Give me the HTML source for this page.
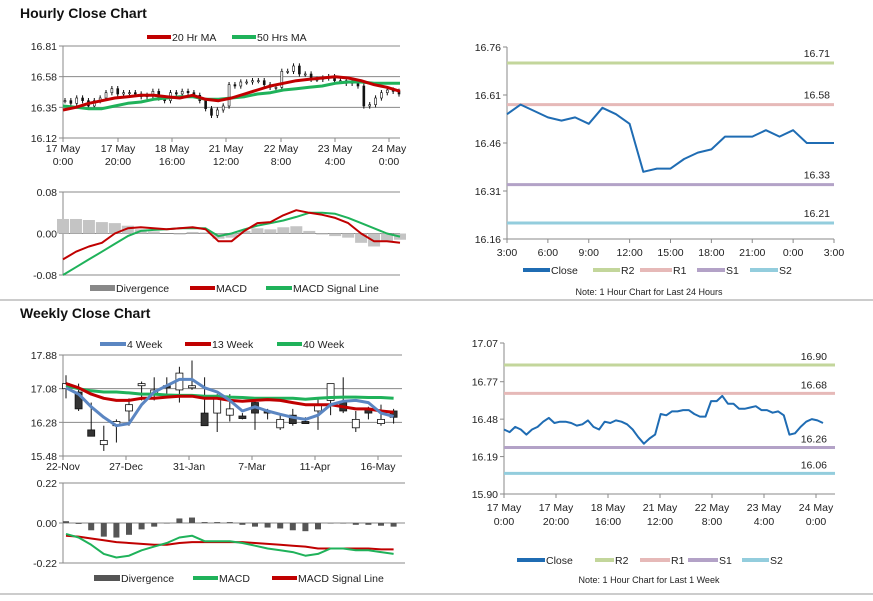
<!DOCTYPE html>
<html><head><meta charset="utf-8"><style>
html,body{margin:0;padding:0;background:#fff}
svg{display:block;font-family:"Liberation Sans",Arial,sans-serif}
.t{font-size:10.5px;fill:#222}
.s{font-size:9px;fill:#222}
.h{font-size:14px;font-weight:bold;fill:#111}
</style></head><body>
<svg id="root" width="873" height="601" viewBox="0 0 873 601">
<text class="h" x="20" y="18">Hourly Close Chart</text>
<text class="h" x="20" y="318">Weekly Close Chart</text>
<line x1="0" y1="300" x2="873" y2="300" stroke="#999"/>
<line x1="0" y1="594" x2="873" y2="594" stroke="#999"/>
<g id="g"></g>
</svg>
<script>
// ---------- DATA ----------
var hrClose=[16.40,16.38,16.42,16.40,16.36,16.40,16.42,16.46,16.49,16.45,16.46,16.46,16.45,16.43,16.44,16.47,16.42,16.40,16.46,16.45,16.47,16.46,16.44,16.40,16.34,16.29,16.33,16.36,16.52,16.51,16.54,16.54,16.55,16.55,16.52,16.50,16.50,16.62,16.62,16.66,16.60,16.60,16.56,16.56,16.57,16.58,16.55,16.55,16.53,16.54,16.51,16.36,16.37,16.42,16.46,16.48,16.47,16.45];
var hrMA20=[16.33,16.35,16.38,16.40,16.42,16.43,16.44,16.44,16.43,16.42,16.44,16.41,16.40,16.42,16.45,16.48,16.51,16.53,16.55,16.56,16.57,16.58,16.57,16.55,16.52,16.50,16.47];
var hrMA50=[16.36,16.35,16.34,16.34,16.36,16.38,16.39,16.41,16.42,16.43,16.43,16.41,16.41,16.42,16.43,16.45,16.46,16.48,16.49,16.50,16.51,16.53,16.54,16.54,16.53,16.53,16.53];
var hrMacd=[-0.05,-0.035,-0.025,-0.018,0.0,0.01,0.012,0.01,0.008,0.01,0.012,0.008,-0.015,-0.015,0.005,0.02,0.022,0.035,0.045,0.04,0.036,0.03,0.02,0.0,-0.015,-0.015,-0.018];
var hrSignal=[-0.08,-0.065,-0.05,-0.035,-0.02,-0.005,0.005,0.007,0.008,0.01,0.01,0.01,-0.005,0.0,0.008,0.015,0.02,0.025,0.032,0.04,0.04,0.038,0.03,0.02,0.01,0.0,-0.006];
var hrDiv=[0.028,0.028,0.026,0.022,0.02,0.015,0.008,0.004,0.0,-0.002,0.003,0.002,-0.01,-0.008,0.005,0.01,0.008,0.012,0.014,0.005,-0.002,-0.005,-0.008,-0.018,-0.025,-0.016,-0.012];
var dayClose=[16.55,16.58,16.56,16.54,16.53,16.54,16.52,16.57,16.55,16.52,16.37,16.38,16.38,16.41,16.43,16.44,16.48,16.48,16.48,16.50,16.48,16.50,16.46,16.46,16.46];
var dayLevels=[16.71,16.58,16.33,16.21];
var wkLevels=[16.90,16.68,16.26,16.06];
var wkOpen=[17.08,17.0,16.1,15.75,16.2,16.55,17.15,16.95,17.15,17.05,17.1,16.5,16.5,16.45,16.43,16.75,16.55,16.15,16.45,16.3,16.55,16.8,16.75,16.15,16.6,16.25,16.55];
var wkClose=[17.2,16.6,15.95,15.85,16.3,16.7,17.2,17.05,17.1,17.45,17.15,16.2,16.85,16.6,16.37,16.5,16.5,16.35,16.25,16.25,16.7,17.2,16.55,16.35,16.5,16.35,16.4];
var wkHigh=[17.4,17.2,16.75,16.2,16.35,16.85,17.25,17.35,17.35,17.6,17.75,17.35,16.95,16.95,16.5,16.85,16.6,16.45,16.6,16.4,16.85,17.2,17.35,16.55,16.65,16.7,16.6];
var wkLow=[16.85,16.55,15.95,15.6,15.8,16.2,16.8,16.8,16.85,16.75,17.05,16.2,16.05,16.3,16.35,16.1,16.35,16.1,16.2,16.25,16.1,16.45,16.5,16.05,16.35,16.2,16.25];
var wk4=[17.1,16.95,16.65,16.4,16.2,16.25,16.7,17.0,17.15,17.3,17.3,17.1,17.0,16.8,16.55,16.65,16.55,16.47,16.4,16.35,16.45,16.7,16.78,16.8,16.75,16.5,16.42];
var wk13=[17.2,17.1,16.95,16.85,16.8,16.8,16.85,16.85,16.88,16.9,16.9,16.85,16.85,16.8,16.78,16.8,16.82,16.8,16.75,16.7,16.7,16.7,16.65,16.6,16.6,16.55,16.52];
var wk40=[17.15,17.08,17.03,17.0,17.0,16.98,16.95,16.95,16.93,16.92,16.92,16.9,16.9,16.88,16.87,16.85,16.85,16.85,16.85,16.83,16.85,16.87,16.88,16.88,16.87,16.87,16.85];
var wkDiv=[0.01,-0.005,-0.04,-0.075,-0.08,-0.065,-0.035,-0.02,0,0.025,0.03,0.005,0.005,0.005,-0.01,-0.02,-0.025,-0.03,-0.04,-0.045,-0.035,0,0,-0.01,-0.01,-0.015,-0.02];
var wkMacd=[-0.06,-0.08,-0.12,-0.17,-0.19,-0.18,-0.15,-0.13,-0.11,-0.08,-0.07,-0.1,-0.1,-0.1,-0.11,-0.125,-0.14,-0.15,-0.16,-0.18,-0.17,-0.14,-0.14,-0.15,-0.15,-0.16,-0.17];
var wkSignal=[-0.07,-0.075,-0.085,-0.095,-0.105,-0.11,-0.115,-0.12,-0.12,-0.11,-0.105,-0.105,-0.105,-0.105,-0.105,-0.11,-0.115,-0.12,-0.125,-0.13,-0.14,-0.14,-0.14,-0.14,-0.14,-0.145,-0.145];
var hrYTicks=["16.81","16.58","16.35","16.12"];
var hrMacdTicks=["0.08","0.00","-0.08"];
var dayYTicks=["16.76","16.61","16.46","16.31","16.16"];
var dayXTicks=["3:00","6:00","9:00","12:00","15:00","18:00","21:00","0:00","3:00"];
var weekXTicks1=["17 May","17 May","18 May","21 May","22 May","23 May","24 May"];
var weekXTicks2=["0:00","20:00","16:00","12:00","8:00","4:00","0:00"];
var wkYTicks=["17.88","17.08","16.28","15.48"];
var wkMacdTicks=["0.22","0.00","-0.22"];
var wkXTicks=["22-Nov","27-Dec","31-Jan","7-Mar","11-Apr","16-May"];
var wkRightY=["17.07","16.77","16.48","16.19","15.90"];

// ---------- HELPERS ----------
var NS="http://www.w3.org/2000/svg",G=document.getElementById('g');
function mk(tag,a,name){var el=document.createElementNS(NS,tag);for(var k in a)el.setAttribute(k,a[k]);


G.appendChild(el);return el;}
function lin(d0,d1,r0,r1){return function(v){return r0+(v-d0)*(r1-r0)/(d1-d0);};}
function txt(x,y,s,cls,anchor,name){var t=mk('text',{x:x,y:y,'class':cls,'text-anchor':anchor||'start'},name);t.textContent=s;return t;}
function poly(arr,xs,ys,color,w,name){var p=arr.map(function(v,i){return xs(i).toFixed(1)+','+ys(v).toFixed(1);}).join(' ');
mk('polyline',{points:p,fill:'none',stroke:color,'stroke-width':w,'stroke-linejoin':'round'},name);}
function yAxis(ticks,ys,x0,x1,name,grid){ticks.forEach(function(t){var y=ys(parseFloat(t));
if(grid)mk('line',{x1:x0,x2:x1,y1:y,y2:y,stroke:'#8a8a8a','stroke-width':1},name+'-grid');
mk('line',{x1:x0-4,x2:x0,y1:y,y2:y,stroke:'#8a8a8a'},name+'-tick');
txt(x0-6,y+4,t,'t','end',name+'-label');});
mk('line',{x1:x0,x2:x0,y1:ys(parseFloat(ticks[0])),y2:ys(parseFloat(ticks[ticks.length-1])),stroke:'#8a8a8a'},name+'-line');}
function legLine(x,y,w,color,label,name,rect){if(rect)mk('rect',{x:x,y:y-3,width:w,height:6,fill:color},name+'-swatch');
else mk('line',{x1:x,x2:x+w,y1:y,y2:y,stroke:color,'stroke-width':4},name+'-swatch');
txt(x+w+1,y+4,label,'t','start',name);}
var RED='#c00000',GRN='#1fb25a',BLU='#5b86c2',DBL='#1f6cb3';
var LC=['#c3d69b','#e6b9b8','#b3a2c7','#93cddd'],LN=['R2','R1','S1','S2'];

// ---------- PANEL 1: hourly candles ----------
(function(){
var ys=lin(16.12,16.81,138,46),xs=lin(0,hrClose.length-1,65,399);
yAxis(hrYTicks,ys,63,400,'hourly-y',true);
var xt=[63,118,172,226,281,335,389];
xt.forEach(function(x,i){mk('line',{x1:x,x2:x,y1:138,y2:142,stroke:'#8a8a8a'},'hourly-x-tick');
txt(x,152,weekXTicks1[i],'t','middle','hourly-x-label');txt(x,165,weekXTicks2[i],'t','middle','hourly-x-label');});
hrClose.forEach(function(c,i){var o=i?hrClose[i-1]:c,x=xs(i);
mk('line',{x1:x,x2:x,y1:ys(Math.max(o,c)+0.02),y2:ys(Math.min(o,c)-0.02),stroke:'#111','stroke-width':1},'hourly-wick');
mk('rect',{x:x-1,y:ys(Math.max(o,c)),width:2,height:Math.max(1,Math.abs(ys(o)-ys(c))),fill:c>=o?'#fff':'#111',stroke:'#111','stroke-width':0.6},'hourly-candle');});
var xm=lin(0,hrMA20.length-1,63,400);
poly(hrMA50,xm,ys,GRN,3,'ma50-line');poly(hrMA20,xm,ys,RED,3,'ma20-line');
legLine(147,37,24,RED,'20 Hr MA','legend-ma20');legLine(232,37,24,GRN,'50 Hrs MA','legend-ma50');
})();
// ---------- PANEL 2: hourly MACD ----------
(function(){
var ys=lin(-0.08,0.08,275,192),xs=lin(0,hrMacd.length-1,63,400);
yAxis(hrMacdTicks,ys,63,400,'hourly-macd-y',true);
hrDiv.forEach(function(v,i){var x=xs(i);mk('rect',{x:x-6,y:Math.min(ys(v),ys(0)),width:12,height:Math.abs(ys(v)-ys(0)),fill:'#c4c4c4'},'hourly-divergence-bar');});
poly(hrSignal,xs,ys,GRN,2,'hourly-signal-line');poly(hrMacd,xs,ys,RED,2,'hourly-macd-line');
legLine(90,288,25,'#888','Divergence','legend-divergence',true);legLine(190,288,25,RED,'MACD','legend-macd');legLine(266,288,26,GRN,'MACD Signal Line','legend-signal');
})();
// ---------- PANEL 3: 24h close ----------
(function(){
var ys=lin(16.16,16.76,239,47),xs=lin(0,dayClose.length-1,507,834);
yAxis(dayYTicks,ys,507,834,'day-y',false);
mk('line',{x1:507,x2:834,y1:239,y2:239,stroke:'#8a8a8a'},'day-x-axis');
dayXTicks.forEach(function(t,i){var x=xs(i*3);mk('line',{x1:x,x2:x,y1:239,y2:243,stroke:'#8a8a8a'},'day-x-tick');txt(x,256,t,'t','middle','day-x-label');});
dayLevels.forEach(function(v,i){mk('line',{x1:507,x2:834,y1:ys(v),y2:ys(v),stroke:LC[i],'stroke-width':3},'day-'+LN[i]+'-line');
txt(830,ys(v)-6,v.toFixed(2),'t','end','day-'+LN[i]+'-label');});
poly(dayClose,xs,ys,DBL,2,'day-close-line');
legLine(523,270,27,DBL,'Close','legend-close');legLine(593,270,27,LC[0],'R2','legend-r2');legLine(640,270,32,LC[1],'R1','legend-r1');legLine(697,270,28,LC[2],'S1','legend-s1');legLine(750,270,28,LC[3],'S2','legend-s2');
txt(649,295,'Note: 1 Hour Chart for Last 24 Hours','s','middle','day-note');
})();
// ---------- PANEL 4: weekly candles ----------
(function(){
var ys=lin(15.48,17.88,456,355),xs=lin(0,1,66,78.6);
yAxis(wkYTicks,ys,63,402,'weekly-y',true);
wkXTicks.forEach(function(t,i){var x=63+i*5*12.6;mk('line',{x1:x,x2:x,y1:456,y2:460,stroke:'#8a8a8a'},'weekly-x-tick');txt(x,470,t,'t','middle','weekly-x-label');});
wkOpen.forEach(function(o,i){var c=wkClose[i],x=xs(i);
mk('line',{x1:x,x2:x,y1:ys(wkHigh[i]),y2:ys(wkLow[i]),stroke:'#111'},'weekly-wick');
mk('rect',{x:x-3.5,y:ys(Math.max(o,c)),width:7,height:Math.max(1.5,Math.abs(ys(o)-ys(c))),fill:c>=o?'#fff':'#333',stroke:'#111','stroke-width':0.8},'weekly-candle');});
poly(wk40,xs,ys,GRN,3,'wk40-line');poly(wk13,xs,ys,RED,3,'wk13-line');poly(wk4,xs,ys,BLU,3,'wk4-line');
legLine(100,344,26,BLU,'4 Week','legend-4week');legLine(185,344,26,RED,'13 Week','legend-13week');legLine(277,344,25,GRN,'40 Week','legend-40week');
})();
// ---------- PANEL 5: weekly MACD ----------
(function(){
var ys=lin(-0.22,0.22,563,483),xs=lin(0,1,66,78.6);
yAxis(wkMacdTicks,ys,63,405,'weekly-macd-y',true);
wkDiv.forEach(function(v,i){var x=xs(i);mk('rect',{x:x-3,y:Math.min(ys(v),ys(0)),width:6,height:Math.max(0.5,Math.abs(ys(v)-ys(0))),fill:'#555'},'weekly-divergence-bar');});
poly(wkSignal,xs,ys,RED,2,'weekly-signal-line');poly(wkMacd,xs,ys,GRN,2,'weekly-macd-line');
legLine(94,578,26,'#555','Divergence','legend-weekly-divergence',true);legLine(193,578,25,GRN,'MACD','legend-weekly-macd');legLine(272,578,25,RED,'MACD Signal Line','legend-weekly-signal');
})();
// ---------- PANEL 6: week close ----------
(function(){
var ys=lin(15.90,17.07,494,343),xs=lin(0,hrClose.length-1,504,823);
yAxis(wkRightY,ys,504,835,'week-y',false);
mk('line',{x1:504,x2:835,y1:494,y2:494,stroke:'#8a8a8a'},'week-x-axis');
weekXTicks1.forEach(function(t,i){var x=504+i*52;mk('line',{x1:x,x2:x,y1:494,y2:498,stroke:'#8a8a8a'},'week-x-tick');txt(x,511,t,'t','middle','week-x-label');txt(x,525,weekXTicks2[i],'t','middle','week-x-label');});
wkLevels.forEach(function(v,i){mk('line',{x1:504,x2:835,y1:ys(v),y2:ys(v),stroke:LC[i],'stroke-width':3},'week-'+LN[i]+'-line');
txt(827,ys(v)-5,v.toFixed(2),'t','end','week-'+LN[i]+'-label');});
poly(hrClose,xs,ys,DBL,2,'week-close-line');
legLine(517,560,28,DBL,'Close','legend-week-close');legLine(595,560,19,LC[0],'R2','legend-week-r2');legLine(640,560,30,LC[1],'R1','legend-week-r1');legLine(688,560,30,LC[2],'S1','legend-week-s1');legLine(742,560,27,LC[3],'S2','legend-week-s2');
txt(649,583,'Note: 1 Hour Chart for Last 1 Week','s','middle','week-note');
})();
</script>
</body></html>
